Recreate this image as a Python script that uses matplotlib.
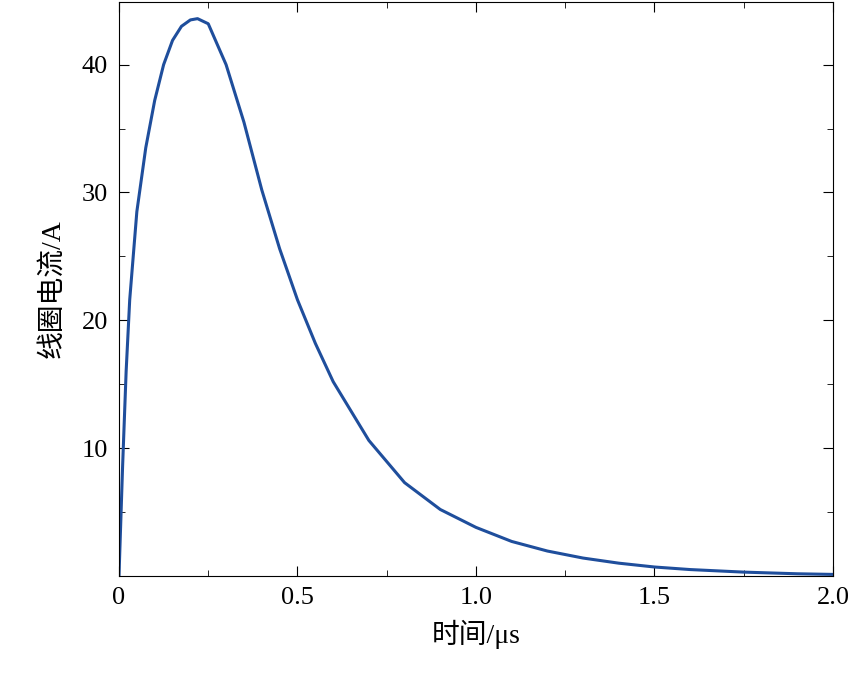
import matplotlib
matplotlib.use("Agg")
import matplotlib.pyplot as plt
from matplotlib.ticker import MultipleLocator

plt.rcParams['font.family'] = ['Liberation Serif', 'Noto Sans CJK SC']

# values
time_us = [0, 0.01, 0.02, 0.03, 0.05, 0.075, 0.1, 0.125, 0.15, 0.175, 0.2, 0.22, 0.25,
           0.3, 0.35, 0.4, 0.45, 0.5, 0.55, 0.6, 0.7, 0.8, 0.9, 1.0, 1.1, 1.2,
           1.3, 1.4, 1.5, 1.6, 1.75, 1.9, 2.0]
current_a = [0, 8.5, 16, 21.6, 28.5, 33.5, 37.2, 40, 41.9, 43.0, 43.5, 43.6, 43.2,
             40.0, 35.5, 30.2, 25.6, 21.6, 18.2, 15.2, 10.6, 7.3, 5.2, 3.8, 2.7, 1.95,
             1.4, 1.0, 0.7, 0.5, 0.3, 0.17, 0.12]

fig = plt.figure(figsize=(8.53, 6.76), dpi=100)
ax = fig.add_axes([0.1395, 0.148, 0.837, 0.849])
ax.plot(time_us, current_a, color='#1f4e9c', linewidth=2.2)

ax.set_xlim(0, 2.0)
ax.set_ylim(0, 44.9)
ax.set_xticks([0, 0.5, 1.0, 1.5, 2.0])
ax.set_xticklabels(['0', '0.5', '1.0', '1.5', '2.0'])
ax.set_yticks([10, 20, 30, 40])
ax.xaxis.set_minor_locator(MultipleLocator(0.25))
ax.yaxis.set_minor_locator(MultipleLocator(5))
ax.tick_params(which='both', direction='in', top=True, right=True, labelsize=19)
ax.tick_params(which='major', length=7, pad=8)
ax.tick_params(which='minor', length=4)

ax.set_xlabel('时间/μs', fontsize=20, labelpad=8)
ax.set_ylabel('线圈电流/A', fontsize=20, labelpad=12)

fig.savefig('out.png', dpi=100)
plt.close(fig)
